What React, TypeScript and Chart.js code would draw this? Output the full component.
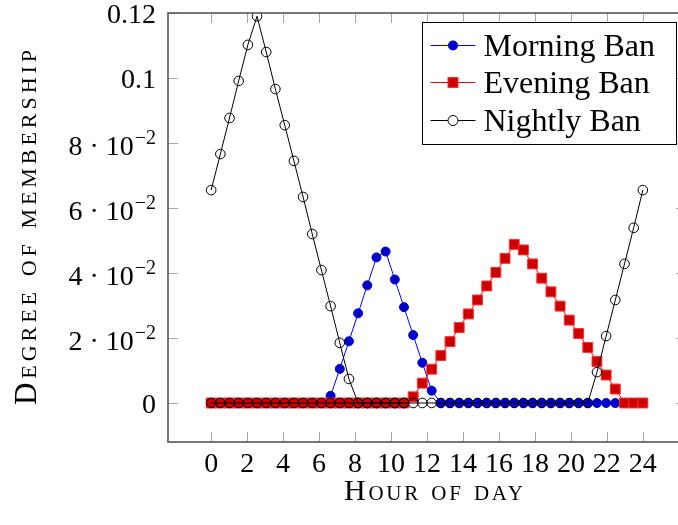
import React, { useEffect, useRef } from 'react';
import { Chart, registerables } from 'chart.js';

Chart.register(...registerables);

const FONT = '"Liberation Serif", "Times New Roman", serif';

// Hour of day for each sample (48 samples over 0..24 h)
const hours = [
  0, 0.51, 1.02, 1.53, 2.04, 2.55, 3.06, 3.57, 4.09, 4.6,
  5.11, 5.62, 6.13, 6.64, 7.15, 7.66, 8.17, 8.68, 9.19, 9.7,
  10.21, 10.72, 11.23, 11.74, 12.26, 12.77, 13.28, 13.79, 14.3, 14.81,
  15.32, 15.83, 16.34, 16.85, 17.36, 17.87, 18.38, 18.89, 19.4, 19.91,
  20.43, 20.94, 21.45, 21.96, 22.47, 22.98, 23.49, 24,
];

const morningBan = [
  0, 0, 0, 0, 0, 0, 0, 0, 0, 0,
  0, 0, 0, 0.0022, 0.0105, 0.019, 0.0276, 0.0362, 0.0448, 0.0466,
  0.038, 0.0295, 0.0209, 0.0124, 0.0038, 0, 0, 0, 0, 0,
  0, 0, 0, 0, 0, 0, 0, 0, 0, 0,
  0, 0, 0, 0, 0, 0, 0, 0,
];

const eveningBan = [
  0, 0, 0, 0, 0, 0, 0, 0, 0, 0,
  0, 0, 0, 0, 0, 0, 0, 0, 0, 0,
  0, 0, 0.0019, 0.0061, 0.0104, 0.0146, 0.0189, 0.0232, 0.0274, 0.0317,
  0.036, 0.0402, 0.0445, 0.0488, 0.0471, 0.0428, 0.0384, 0.0342, 0.0298, 0.0255,
  0.0214, 0.0171, 0.0128, 0.0086, 0.0043, 0, 0, 0,
];

// Nightly ban is plotted in two pieces: the early-morning tail and the late-evening rise
const nightlyBanEarly = [
  0.0655, 0.0766, 0.0877, 0.0991, 0.1102, 0.119, 0.108, 0.0966, 0.0855, 0.0745,
  0.0634, 0.052, 0.0409, 0.0298, 0.0185, 0.0074, 0, 0, 0, 0,
  0, 0,
];

const nightlyBanLate = [
  0, 0, 0, 0, 0, 0, 0, 0, 0, 0,
  0, 0, 0, 0, 0, 0, 0, 0, 0, 0,
  0, 0, 0, 0, 0, 0, 0, 0, 0, 0,
  0, 0, 0, 0, 0, 0, 0, 0, 0, 0,
  0, 0, 0.0095, 0.0206, 0.0317, 0.0428, 0.0539, 0.0655,
];

const seriesNames = ['Morning Ban', 'Evening Ban', 'Nightly Ban'];

const xTickValues = [0, 2, 4, 6, 8, 10, 12, 14, 16, 18, 20, 22, 24];
const yTickValues = [0, 0.02, 0.04, 0.06, 0.08, 0.1, 0.12];
const yTickMain = ['0', '2 · 10', '4 · 10', '6 · 10', '8 · 10', '0.1', '0.12'];
const yTickSup = ['', '\u22122', '\u22122', '\u22122', '\u22122', '', ''];

const xTitle = 'Hour of day';
const yTitle = 'Degree of membership';

const BLUE_LINE = '#0000ff';
const BLUE_MARK = '#0000cc';
const RED_LINE = '#ff0000';
const RED_MARK = '#cc0000';
const RED_EDGE = '#ff3030';

function toPoints(vals: number[]) {
  return vals.map((v, i) => ({ x: hours[i], y: v }));
}

function drawSpacedText(ctx: CanvasRenderingContext2D, text: string, left: number, baseline: number, target: number) {
  const c = ctx as any;
  c.letterSpacing = '0px';
  const w0 = ctx.measureText(text).width;
  const sp = (target - w0) / (text.length - 1);
  c.letterSpacing = `${sp}px`;
  ctx.textAlign = 'left';
  ctx.textBaseline = 'alphabetic';
  ctx.fillText(text, left, baseline);
  c.letterSpacing = '0px';
}

const axisDecor = {
  id: 'axisDecor',
  beforeDatasetsDraw(chart: any) {
    const { ctx, chartArea: a, scales } = chart;
    const xs = scales.x;
    const ys = scales.y;
    ctx.save();
    ctx.strokeStyle = '#a8a8a8';
    ctx.lineWidth = 1;
    ctx.beginPath();
    for (const v of xTickValues) {
      const px = Math.round(xs.getPixelForValue(v)) + 0.5;
      ctx.moveTo(px, a.bottom);
      ctx.lineTo(px, a.bottom - 10);
      ctx.moveTo(px, a.top);
      ctx.lineTo(px, a.top + 10);
    }
    for (const v of yTickValues) {
      const py = Math.round(ys.getPixelForValue(v)) + 0.5;
      ctx.moveTo(a.left, py);
      ctx.lineTo(a.left + 10, py);
      ctx.moveTo(a.right, py);
      ctx.lineTo(a.right - 10, py);
    }
    ctx.stroke();
    ctx.restore();
  },
  afterDraw(chart: any) {
    const { ctx, chartArea: a, scales } = chart;
    const ys = scales.y;
    ctx.save();
    // frame
    ctx.strokeStyle = '#555555';
    ctx.lineWidth = 1.6;
    ctx.strokeRect(a.left, a.top, a.right - a.left, a.bottom - a.top);

    // y tick labels
    ctx.fillStyle = '#000';
    const right = a.left - 12;
    yTickValues.forEach((v, i) => {
      const py = ys.getPixelForValue(v);
      const sup = yTickSup[i];
      ctx.textBaseline = 'alphabetic';
      if (sup) {
        ctx.font = `20px ${FONT}`;
        const sw = ctx.measureText(sup).width;
        ctx.textAlign = 'left';
        ctx.fillText(sup, right - sw, py + 1);
        ctx.font = `28px ${FONT}`;
        ctx.textAlign = 'right';
        ctx.fillText(yTickMain[i], right - sw - 1, py + 12);
      } else {
        ctx.font = `28px ${FONT}`;
        ctx.textAlign = 'right';
        ctx.fillText(yTickMain[i], right, py + 9.5);
      }
    });

    // axis titles (small caps)
    const c = ctx as any;
    ctx.font = `small-caps 30px ${FONT}`;
    c.fontVariantCaps = 'small-caps';
    drawSpacedText(ctx, xTitle, 344, 500, 179);

    ctx.save();
    ctx.font = `small-caps 31px ${FONT}`;
    c.fontVariantCaps = 'small-caps';
    ctx.translate(36, (a.top + a.bottom) / 2);
    ctx.rotate(-Math.PI / 2);
    drawSpacedText(ctx, yTitle, -177.5, 0, 355);
    ctx.restore();
    c.fontVariantCaps = 'normal';

    // legend
    const w = a.right - a.left;
    const h = a.bottom - a.top;
    const lw = 254;
    const lh = 122;
    const lx = Math.round(a.left + 0.98 * w - lw) + 0.5;
    const ly = Math.round(a.top + 0.02 * h) + 0.5;
    ctx.fillStyle = '#fff';
    ctx.fillRect(lx, ly, lw, lh);
    ctx.strokeStyle = '#000';
    ctx.lineWidth = 1;
    ctx.strokeRect(lx, ly, lw, lh);
    const rows = [23, 60, 98];
    const lineCols = [BLUE_LINE, RED_LINE, '#000'];
    rows.forEach((dy, i) => {
      const cy = ly + dy;
      ctx.strokeStyle = lineCols[i];
      ctx.lineWidth = 1;
      ctx.beginPath();
      ctx.moveTo(lx + 8, cy);
      ctx.lineTo(lx + 53, cy);
      ctx.stroke();
      const mx = lx + 30.5;
      if (i === 0) {
        ctx.fillStyle = BLUE_MARK;
        ctx.beginPath();
        ctx.arc(mx, cy, 5, 0, Math.PI * 2);
        ctx.fill();
      } else if (i === 1) {
        ctx.fillStyle = RED_MARK;
        ctx.fillRect(mx - 5, cy - 5, 10, 10);
        ctx.strokeStyle = RED_EDGE;
        ctx.strokeRect(mx - 5, cy - 5, 10, 10);
      } else {
        ctx.fillStyle = '#fff';
        ctx.strokeStyle = '#000';
        ctx.beginPath();
        ctx.arc(mx, cy, 5, 0, Math.PI * 2);
        ctx.fill();
        ctx.stroke();
      }
      ctx.fillStyle = '#000';
      ctx.font = `32px ${FONT}`;
      ctx.textAlign = 'left';
      ctx.textBaseline = 'alphabetic';
      ctx.fillText(seriesNames[i], lx + 61, cy + 10.5);
    });
    ctx.restore();
  },
};

const nightlyStyle = {
  borderColor: '#000',
  borderWidth: 1,
  pointStyle: 'circle',
  pointRadius: 4.8,
  pointBackgroundColor: 'rgba(0,0,0,0)',
  pointBorderColor: '#000',
  pointBorderWidth: 1,
  tension: 0,
  fill: false,
};

export default function App() {
  const ref = useRef<HTMLCanvasElement>(null);
  useEffect(() => {
    const canvas = ref.current;
    if (!canvas) return;
    const chart = new Chart(canvas, {
      type: 'line',
      data: {
        datasets: [
          {
            label: seriesNames[0],
            data: toPoints(morningBan),
            order: 4,
            borderColor: BLUE_LINE,
            borderWidth: 1,
            pointStyle: 'circle',
            pointRadius: 4.5,
            pointBackgroundColor: BLUE_MARK,
            pointBorderColor: BLUE_MARK,
            pointBorderWidth: 1,
            tension: 0,
            fill: false,
          },
          {
            label: seriesNames[1],
            data: toPoints(eveningBan),
            order: 3,
            borderColor: RED_LINE,
            borderWidth: 1,
            pointStyle: 'rect',
            pointRadius: 7,
            pointBackgroundColor: RED_MARK,
            pointBorderColor: RED_EDGE,
            pointBorderWidth: 1,
            tension: 0,
            fill: false,
          },
          {
            label: seriesNames[2],
            data: toPoints(nightlyBanEarly),
            order: 2,
            ...nightlyStyle,
          },
          {
            label: seriesNames[2],
            data: toPoints(nightlyBanLate),
            order: 1,
            ...nightlyStyle,
          },
        ],
      },
      options: {
        animation: false,
        responsive: false,
        devicePixelRatio: 1,
        events: [],
        layout: { padding: { top: 13, right: 14, bottom: 0, left: 0 } },
        plugins: {
          legend: { display: false },
          tooltip: { enabled: false },
        },
        scales: {
          x: {
            type: 'linear',
            min: -2.4,
            max: 26.4,
            afterBuildTicks: (s: any) => {
              s.ticks = xTickValues.map((value) => ({ value }));
            },
            afterFit: (s: any) => {
              s.height = 83;
            },
            grid: { display: false, drawTicks: false },
            border: { display: false },
            ticks: {
              autoSkip: false,
              maxRotation: 0,
              padding: 6,
              color: '#000',
              font: { family: FONT, size: 28 },
              callback: (v: any) => String(v),
            },
          },
          y: {
            type: 'linear',
            min: -0.012,
            max: 0.12,
            afterBuildTicks: (s: any) => {
              s.ticks = yTickValues.map((value) => ({ value }));
            },
            afterFit: (s: any) => {
              s.width = 168;
            },
            grid: { display: false, drawTicks: false },
            border: { display: false },
            ticks: { display: false },
          },
        },
      },
      plugins: [axisDecor],
    } as any);
    return () => chart.destroy();
  }, []);

  return (
    <div
      style={{
        position: 'fixed',
        left: 0,
        top: 0,
        width: 678,
        height: 525,
        overflow: 'hidden',
        background: '#fff',
      }}
    >
      <canvas ref={ref} width={700} height={525} style={{ display: 'block' }} />
    </div>
  );
}
